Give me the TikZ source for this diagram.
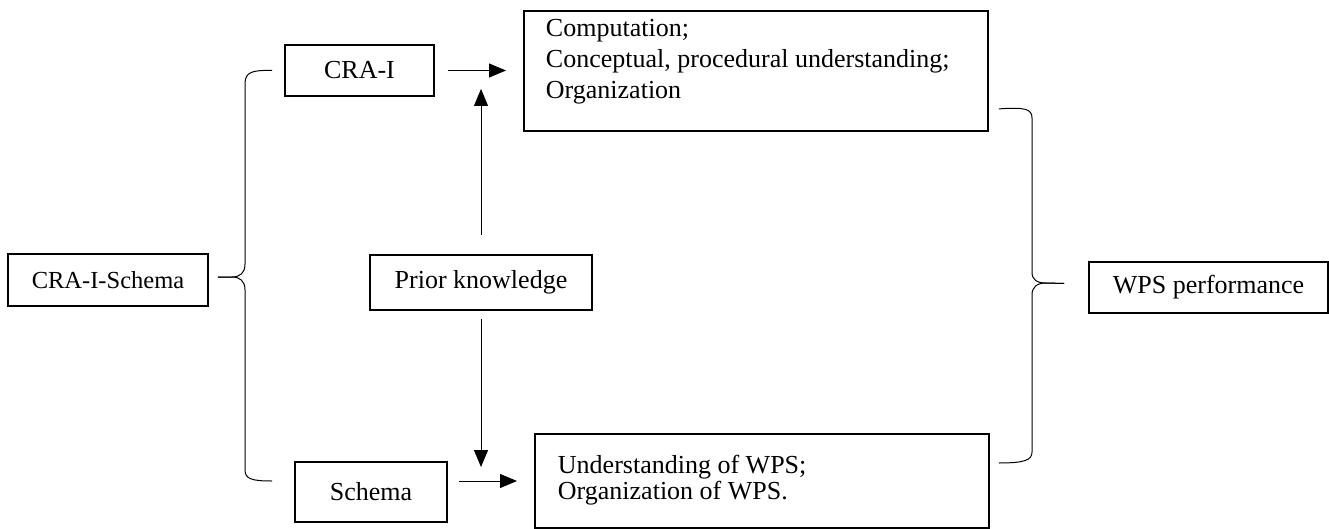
\documentclass[tikz,border=0pt]{standalone}
\usepackage{fontspec}
\setmainfont{Liberation Serif}
\usepackage{tikz}
\usetikzlibrary{arrows.meta}

\begin{document}
\begin{tikzpicture}[x=1pt,y=-1pt,
    box/.style={draw, line width=1.9pt, inner sep=0pt, font=\fontsize{26}{31}\selectfont},
    arr/.style={line width=1pt, -{Triangle[length=17pt,width=14pt]}},
    brace/.style={line width=1pt}]
                \useasboundingbox (0,0) rectangle (1329,529);
                % boxes
                \node[box, minimum width=200pt, minimum height=52pt, font=\fontsize{24.5}{29}\selectfont] (craschema) at (108,280) {CRA-I-Schema};
                \node[box, minimum width=149pt, minimum height=51pt] (cra) at (359.5,70.5) {CRA-I};
                \node[box, minimum width=222pt, minimum height=55pt] (prior) at (481,282.5) {Prior knowledge};
                \node[box, minimum width=152pt, minimum height=60pt] (schema) at (371,492) {Schema};
                \node[box, anchor=north west, inner xsep=22pt, inner ysep=8pt] (comp) at (523,10)
                    {\parbox[t][104pt][t]{420pt}{Computation;\\Conceptual, procedural understanding;\\Organization}};
                \node[box, anchor=north west, inner xsep=23pt, inner ysep=21pt] (und) at (534,433)
                    {\parbox[t][52pt][t]{408pt}{\fontsize{26}{26}\selectfont Understanding of WPS;\\Organization of WPS.}};
                \node[box, minimum width=239pt, minimum height=51pt] (wps) at (1208.5,287.5) {WPS performance};
                % arrows
                \draw[arr] ([xshift=13pt]cra.east) -- ([xshift=-17pt]comp.west |- cra.east);
                \draw[arr] ([yshift=19pt]prior.north) -- ([yshift=8pt]prior.north |- cra.south);
                \draw[arr] ([yshift=-8pt]prior.south) -- ([yshift=-6pt]prior.south |- schema.north);
                \draw[arr] ([xshift=11pt,yshift=11pt]schema.east) -- ([xshift=-17pt,yshift=11pt]und.west |- schema.east);
                % left brace
                \coordinate (ltop) at ([xshift=-12pt]cra.west);
                \coordinate (ltip) at ([xshift=9pt,yshift=3pt]craschema.east);
                \coordinate (lbot) at ([xshift=-22pt,yshift=11pt]schema.west);
                \draw[brace] (ltop) .. controls (252,70) and (245,72) .. (245,84) -- (245,264)
                    .. controls (245,273) and (240,277) .. (232,277) -- (ltip);
                \draw[brace] (ltip) -- (232,277) .. controls (240,277) and (245,281) .. (245,290)
                    -- (245,470) .. controls (245,479) and (252,481) .. (lbot);
                % right brace
                \coordinate (rtop) at ([xshift=10pt,yshift=23pt]comp.south east);
                \coordinate (rtip) at ([xshift=-24pt,yshift=4pt]wps.west);
                \coordinate (rbot) at ([xshift=9pt,yshift=-30pt]und.north east);
                \draw[brace] (rtop) .. controls (1025,107) and (1032,109) .. (1032,118) -- (1032,272)
                    .. controls (1032,280) and (1037,283) .. (1046,283) -- (rtip);
                \draw[brace] (rtip) -- (1046,283) .. controls (1037,283) and (1032,287) .. (1032,295)
                    -- (1032,452) .. controls (1032,460) and (1025,463) .. (rbot);
            \end{tikzpicture}
\end{document}
